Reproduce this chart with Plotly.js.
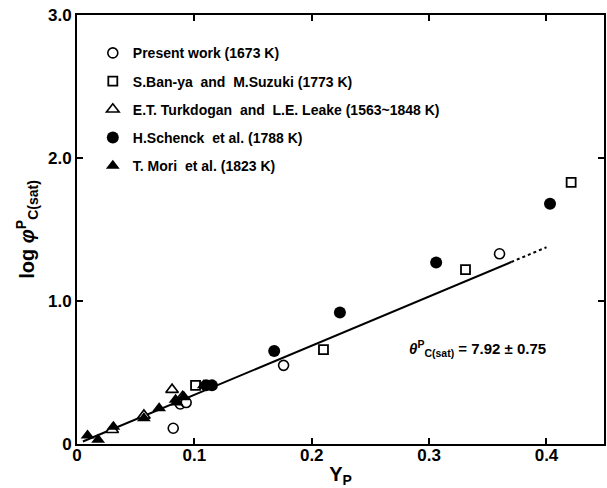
<!DOCTYPE html>
<html>
<head>
<meta charset="utf-8">
<script src="https://cdn.plot.ly/plotly-3.0.1.min.js"></script>
<style>html,body{margin:0;padding:0;background:#fff;}#chart{width:607px;height:488px;}</style>
</head>
<body>
<div id="chart"></div>
<script>
// Present work (1673 K) - open circles
const presentX = [0.082, 0.088, 0.093, 0.176, 0.360];
const presentY = [0.11, 0.28, 0.29, 0.55, 1.33];
// S.Ban-ya and M.Suzuki (1773 K) - open squares
const banyaX = [0.101, 0.210, 0.331, 0.421];
const banyaY = [0.41, 0.66, 1.22, 1.83];
// E.T. Turkdogan and L.E. Leake - open triangles
const turkX = [0.030, 0.057, 0.081, 0.090];
const turkY = [0.10, 0.20, 0.38, 0.33];
// H.Schenck et al. (1788 K) - filled circles
const schenckX = [0.110, 0.115, 0.168, 0.224, 0.306, 0.403];
const schenckY = [0.41, 0.41, 0.65, 0.92, 1.27, 1.68];
// T. Mori et al. (1823 K) - filled triangles
const moriX = [0.009, 0.018, 0.031, 0.057, 0.070, 0.084, 0.085, 0.091, 0.108];
const moriY = [0.06, 0.03, 0.12, 0.18, 0.25, 0.31, 0.29, 0.33, 0.41];
// fitted line: log phi = theta * Y / ln(10)
const theta = 7.92;
const fitSolidX = [0.005, 0.37];
const fitDotX = [0.37, 0.40];
const fitY = xs => xs.map(x => theta * x / Math.LN10);

const xTickVals = [0, 0.1, 0.2, 0.3, 0.4];
const xTickText = ['0', '0.1', '0.2', '0.3', '0.4'];
const yTickVals = [0, 1, 2, 3];
const yTickText = ['0', '1.0', '2.0', '3.0'];

const legendNames = [
  'Present work (1673 K)',
  'S.Ban-ya  and  M.Suzuki (1773 K)',
  'E.T. Turkdogan  and  L.E. Leake (1563~1848 K)',
  'H.Schenck  et al. (1788 K)',
  'T. Mori  et al. (1823 K)'
];

const FONT = 'Liberation Sans, Arial, sans-serif';

const traces = [
  {x: fitSolidX, y: fitY(fitSolidX), mode: 'lines', line: {color: '#000', width: 2}, showlegend: false, hoverinfo: 'skip'},
  {x: fitDotX, y: fitY(fitDotX), mode: 'lines', line: {color: '#000', width: 2, dash: 'dot'}, showlegend: false, hoverinfo: 'skip'},
  {x: presentX, y: presentY, mode: 'markers', name: legendNames[0], legendgroup: 'a',
   marker: {symbol: 'circle', size: 10, color: '#fff', line: {color: '#000', width: 1.6}}},
  {x: banyaX, y: banyaY, mode: 'markers', name: legendNames[1], legendgroup: 'b',
   marker: {symbol: 'square', size: 9, color: '#fff', line: {color: '#000', width: 1.8}}},
  {x: turkX, y: turkY, mode: 'markers', name: legendNames[2], legendgroup: 'c',
   marker: {symbol: 'triangle-up', size: 11, color: '#fff', line: {color: '#000', width: 1.6}}},
  {x: schenckX, y: schenckY, mode: 'markers', name: legendNames[3], legendgroup: 'd',
   marker: {symbol: 'circle', size: 12, color: '#000', line: {color: '#000', width: 0}}},
  {x: moriX, y: moriY, mode: 'markers', name: legendNames[4], legendgroup: 'e',
   marker: {symbol: 'triangle-up', size: 12, color: '#000', line: {color: '#000', width: 0}}}
];

const axisCommon = {
  showgrid: false, zeroline: false, showline: true, linecolor: '#000', linewidth: 2,
  mirror: 'ticks', ticks: 'inside', ticklen: 6, tickwidth: 2, tickcolor: '#000',
  tickfont: {family: FONT, size: 17, color: '#000', weight: 'bold'}
};

const layout = {
  width: 607, height: 488,
  margin: {l: 77, r: 3, t: 15, b: 44},
  paper_bgcolor: '#fff', plot_bgcolor: '#fff',
  font: {family: FONT, color: '#000'},
  xaxis: Object.assign({}, axisCommon, {
    range: [0, 0.449], tickvals: xTickVals, ticktext: xTickText, ticklabelstandoff: -5,
    title: {text: 'Y<sub>P</sub>', font: {family: FONT, size: 20, color: '#000', weight: 'bold'}, standoff: 4}
  }),
  yaxis: Object.assign({}, axisCommon, {
    range: [0, 3.0], tickvals: yTickVals, ticktext: yTickText,
    title: {text: 'log <i>φ</i><sup>P</sup><sub>C(sat)</sub>', font: {family: FONT, size: 20, color: '#000', weight: 'bold'}, standoff: 8}
  }),
  legend: {
    x: 0.03, y: 0.948, xanchor: 'left', yanchor: 'top',
    bgcolor: 'rgba(0,0,0,0)', borderwidth: 0,
    font: {family: FONT, size: 14, color: '#000', weight: 'bold'},
    tracegroupgap: 7
  },
  annotations: [{
    x: 0.281, y: 0.67, xref: 'x', yref: 'y', xanchor: 'left', yanchor: 'middle', showarrow: false,
    text: '<i>θ</i><sup>P</sup><sub>C(sat)</sub> = 7.92 ± 0.75',
    font: {family: FONT, size: 15, color: '#000', weight: 'bold'}
  }]
};

Plotly.newPlot('chart', traces, layout, {displayModeBar: false, staticPlot: true});
</script>
</body>
</html>
